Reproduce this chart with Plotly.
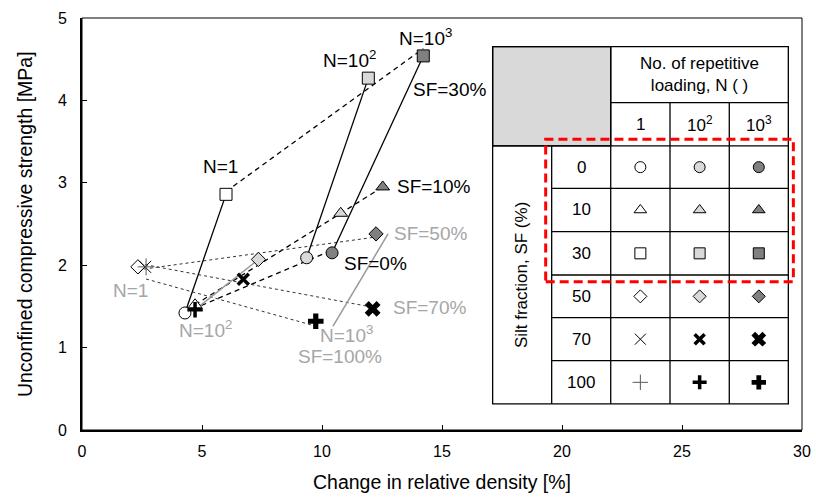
import numpy as np
import plotly.graph_objects as go

# ---------------- data ----------------
N_levels = ["1", "10<sup>2</sup>", "10<sup>3</sup>"]
SF_levels = ["0", "10", "30", "50", "70", "100"]

# change in relative density [%] and UCS [MPa] for N = 1, 10^2, 10^3
sf0_x = [4.29, 9.36, 10.42]
sf0_y = [1.42, 2.09, 2.15]
sf10_x = [4.71, 10.78, 12.53]
sf10_y = [1.52, 2.63, 2.95]
sf30_x = [6.00, 11.93, 14.22]
sf30_y = [2.86, 4.27, 4.54]
sf50_x = [2.33, 7.35, 12.25]
sf50_y = [1.98, 2.07, 2.38]
sf70_x = [2.63, 6.72, 12.11]
sf70_y = [1.98, 1.83, 1.47]
sf100_x = [2.67, 4.71, 9.74]
sf100_y = [1.98, 1.46, 1.32]

# grey guide line drawn for N = 10^3 (fine-grained soils)
guide_x = [10.46, 12.75]
guide_y = [1.26, 2.38]

# ---------------- styles ----------------
FONT = "Arial, Liberation Sans, sans-serif"
GREY_TXT = "#a6a6a6"
FILLS = ["white", "#d9d9d9", "#808080"]

def marker_style(sf_idx, n_idx, size):
    if sf_idx < 4:
        sym = ["circle", "triangle-up", "square", "diamond"][sf_idx]
        s = size if sf_idx != 3 else size - 1
        return dict(symbol=sym, size=s, color=FILLS[n_idx],
                    line=dict(color="black", width=1))
    if sf_idx == 4:
        if n_idx == 0:
            return dict(symbol="x-thin-open", size=size, color="black",
                        line=dict(color="black", width=1))
        if n_idx == 1:
            return dict(symbol="x-thin-open", size=size - 1, color="black",
                        line=dict(color="black", width=3.5))
        return dict(symbol="x", size=size + 2, color="black",
                    line=dict(color="black", width=0))
    if n_idx == 0:
        return dict(symbol="cross-thin-open", size=size, color="#595959",
                    line=dict(color="#595959", width=1))
    if n_idx == 1:
        return dict(symbol="cross-thin-open", size=size - 1, color="black",
                    line=dict(color="black", width=3.5))
    return dict(symbol="cross", size=size + 1, color="black",
                line=dict(color="black", width=0))

fig = go.Figure()

groups = [(sf0_x, sf0_y), (sf10_x, sf10_y), (sf30_x, sf30_y),
          (sf50_x, sf50_y), (sf70_x, sf70_y), (sf100_x, sf100_y)]

# linear trend lines per SF (dashed for coarse, dotted for fine)
for k, (gx, gy) in enumerate(groups):
    a, b = np.polyfit(gx, gy, 1)
    xs = np.array([min(gx), max(gx)])
    if k < 3:
        ln = dict(color="black", width=1.3, dash="5px,4px")
    else:
        ln = dict(color="#333333", width=1, dash="dot")
    fig.add_trace(go.Scatter(x=xs, y=a * xs + b, mode="lines", line=ln,
                             hoverinfo="skip", showlegend=False))

# solid lines joining SF=0 and SF=30 for the same N
for i in range(3):
    fig.add_trace(go.Scatter(x=[sf0_x[i], sf30_x[i]], y=[sf0_y[i], sf30_y[i]],
                             mode="lines", line=dict(color="black", width=1.3),
                             hoverinfo="skip", showlegend=False))

# grey solid lines for fine soils
fig.add_trace(go.Scatter(x=[sf100_x[1], sf50_x[1]], y=[sf100_y[1], sf50_y[1]],
                         mode="lines", line=dict(color="#999999", width=1.5),
                         hoverinfo="skip", showlegend=False))
fig.add_trace(go.Scatter(x=guide_x, y=guide_y, mode="lines",
                         line=dict(color="#999999", width=1.5),
                         hoverinfo="skip", showlegend=False))

# data markers
for k, (gx, gy) in enumerate(groups):
    for i in range(3):
        fig.add_trace(go.Scatter(x=[gx[i]], y=[gy[i]], mode="markers",
                                 marker=marker_style(k, i, 12),
                                 name=f"SF={SF_levels[k]}%, N={N_levels[i]}",
                                 showlegend=False))

# ---------------- inset table (layout in axis units) ----------------
col_edges = [17.11, 19.57, 22.03, 24.50, 26.97, 29.43]
row_edges = [4.652, 3.972, 3.447, 2.933, 2.407, 1.881, 1.363, 0.841, 0.316]
shapes = []

def seg(x0, y0, x1, y1, **kw):
    d = dict(type="line", xref="x", yref="y", x0=x0, y0=y0, x1=x1, y1=y1,
             line=dict(color="black", width=1.3), layer="below")
    d.update(kw)
    shapes.append(d)

shapes.append(dict(type="rect", xref="x", yref="y", x0=col_edges[0], x1=col_edges[2],
                   y0=row_edges[2], y1=row_edges[0], fillcolor="#d9d9d9",
                   line=dict(color="black", width=1.3), layer="below"))
shapes.append(dict(type="rect", xref="x", yref="y", x0=col_edges[0], x1=col_edges[-1],
                   y0=row_edges[-1], y1=row_edges[0],
                   line=dict(color="black", width=1.3), layer="below"))
seg(col_edges[2], row_edges[-1], col_edges[2], row_edges[0])
for c in col_edges[3:5]:
    seg(c, row_edges[-1], c, row_edges[1])
seg(col_edges[1], row_edges[-1], col_edges[1], row_edges[2])
seg(col_edges[2], row_edges[1], col_edges[-1], row_edges[1])
seg(col_edges[0], row_edges[2], col_edges[-1], row_edges[2])
for r in row_edges[3:-1]:
    seg(col_edges[1], r, col_edges[-1], r)

# red dashed highlight around SF 0-30
shapes.append(dict(type="rect", xref="x", yref="y", x0=19.32, x1=29.64, y0=1.80, y1=3.528,
                   line=dict(color="#ff0000", width=3, dash="9px,5px"), layer="above"))

# plot frame (thin top/right border)
shapes.append(dict(type="rect", xref="paper", yref="paper", x0=0, x1=1, y0=0, y1=1,
                   line=dict(color="black", width=1), layer="above"))

annotations = []

def txt(x, y, t, color="black", size=19, **kw):
    d = dict(x=x, y=y, xref="x", yref="y", text=t, showarrow=False,
             font=dict(family=FONT, size=size, color=color))
    d.update(kw)
    annotations.append(d)

col_c = [(col_edges[j] + col_edges[j + 1]) / 2 for j in range(5)]
row_c = [(row_edges[j] + row_edges[j + 1]) / 2 for j in range(8)]

txt((col_edges[2] + col_edges[5]) / 2, row_c[0], "No. of repetitive<br>loading, N ( )", size=17)
for j in range(3):
    txt(col_c[2 + j], row_c[1], N_levels[j], size=17)
for k in range(6):
    txt(col_c[1], row_c[2 + k], SF_levels[k], size=17)
txt(col_c[0], (row_edges[2] + row_edges[-1]) / 2, "Silt fraction, SF (%)", size=17, textangle=-90)

# table symbols
for k in range(6):
    for i in range(3):
        fig.add_trace(go.Scatter(x=[col_c[2 + i]], y=[row_c[2 + k]], mode="markers",
                                 marker=marker_style(k, i, 11), hoverinfo="skip",
                                 showlegend=False, cliponaxis=False))

# in-plot labels
txt(5.75, 3.20, "N=1")
txt(11.13, 4.50, "N=10<sup>2</sup>")
txt(14.31, 4.77, "N=10<sup>3</sup>")
txt(15.33, 4.13, "SF=30%")
txt(14.67, 2.96, "SF=10%")
txt(12.21, 2.02, "SF=0%")
txt(14.53, 2.38, "SF=50%", color=GREY_TXT)
txt(14.50, 1.49, "SF=70%", color=GREY_TXT)
txt(2.00, 1.69, "N=1", color=GREY_TXT)
txt(5.13, 1.23, "N=10<sup>2</sup>", color=GREY_TXT)
txt(11.04, 1.17, "N=10<sup>3</sup>", color=GREY_TXT)
txt(10.77, 0.886, "SF=100%", color=GREY_TXT)

# axis titles
annotations.append(dict(xref="paper", yref="paper", x=0.5, y=-0.126, yanchor="middle",
                        text="Change in relative density [%]", showarrow=False,
                        font=dict(family=FONT, size=19.5, color="black")))
annotations.append(dict(xref="paper", yref="paper", x=-0.079, y=0.5, xanchor="center",
                        yanchor="middle", textangle=-90,
                        text="Unconfined compressive strength [MPa]", showarrow=False,
                        font=dict(family=FONT, size=19.5, color="black")))

fig.update_layout(
    width=816, height=497,
    margin=dict(l=82, r=14, t=18, b=67, autoexpand=False),
    paper_bgcolor="white", plot_bgcolor="white",
    font=dict(family=FONT, size=16, color="black"),
    shapes=shapes, annotations=annotations, showlegend=False,
    xaxis=dict(range=[0, 30], dtick=5, ticks="inside", ticklen=5, tickwidth=1,
               tickcolor="black", showline=True, linewidth=2, linecolor="black",
               showgrid=False, zeroline=False, ticklabelstandoff=6,
               tickfont=dict(family=FONT, size=16, color="black")),
    yaxis=dict(range=[0, 5], dtick=1, ticks="inside", ticklen=5, tickwidth=1,
               tickcolor="black", showline=True, linewidth=2, linecolor="black",
               showgrid=False, zeroline=False, ticklabelstandoff=10,
               tickfont=dict(family=FONT, size=16, color="black")),
)

fig.write_html("out.html")
